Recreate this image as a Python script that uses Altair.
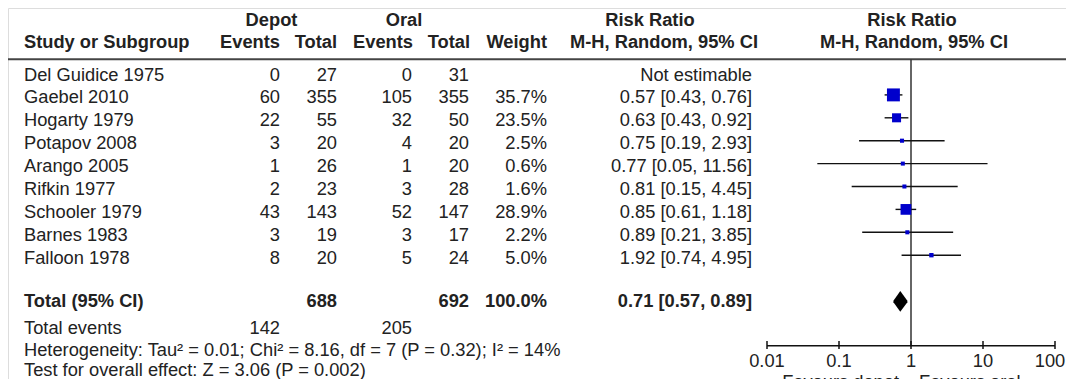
import altair as alt
import pandas as pd

# ---------------- data ----------------
studies = ["Del Guidice 1975", "Gaebel 2010", "Hogarty 1979", "Potapov 2008", "Arango 2005",
           "Rifkin 1977", "Schooler 1979", "Barnes 1983", "Falloon 1978"]
depot_events = [0, 60, 22, 3, 1, 2, 43, 3, 8]
depot_total = [27, 355, 55, 20, 26, 23, 143, 19, 20]
oral_events = [0, 105, 32, 4, 1, 3, 52, 3, 5]
oral_total = [31, 355, 50, 20, 20, 28, 147, 17, 24]
weights = [None, 35.7, 23.5, 2.5, 0.6, 1.6, 28.9, 2.2, 5.0]
rr = [None, 0.57, 0.63, 0.75, 0.77, 0.81, 0.85, 0.89, 1.92]
rr_lo = [None, 0.43, 0.43, 0.19, 0.05, 0.15, 0.61, 0.21, 0.74]
rr_hi = [None, 0.76, 0.92, 2.93, 11.56, 4.45, 1.18, 3.85, 4.95]

total_depot, total_oral, total_weight = 688, 692, 100.0
total_rr, total_lo, total_hi = 0.71, 0.57, 0.89
events_depot, events_oral = 142, 205
heterogeneity = "Heterogeneity: Tau² = 0.01; Chi² = 8.16, df = 7 (P = 0.32); I² = 14%"
overall = "Test for overall effect: Z = 3.06 (P = 0.002)"

tick_values = [0.01, 0.1, 1, 10, 100]
tick_labels = ["0.01", "0.1", "1", "10", "100"]
favours_left, favours_right = "Favours depot", "Favours oral"

# ---------------- layout ----------------
W, H = 1058, 371
FONT = "Liberation Sans"
FS = 18.3
INK = "#222222"
BLUE = "#0000CC"

ROW_H1, ROW_H2, ROW_LINE = -2.38, -1.42, -0.707
ROW_TOTAL, ROW_EVENTS, ROW_HET, ROW_TEST = 9.9, 11.07, 12.03, 12.9
ROW_AXIS, ROW_TICK_TOP, ROW_TICK_BOT, ROW_TICKLAB, ROW_FAV = 11.80, 11.59, 11.94, 12.51, 13.42

X_STUDY, X_DE, X_DT, X_OE, X_OT, X_W, X_RR = 16, 272, 329, 404, 461, 539, 744

yscale = alt.Scale(domain=[0, 10], range=[67.5, 296.5], nice=False, zero=False)
xscale = alt.Scale(type="log", domain=[0.01, 100], range=[759, 1047], nice=False)


def fmt_rr(e, l, h):
    if e is None:
        return "Not estimable"
    return f"{e:.2f} [{l:.2f}, {h:.2f}]"


table = pd.DataFrame({
    "row": list(range(len(studies))),
    "study": studies,
    "de": [str(v) for v in depot_events],
    "dt": [str(v) for v in depot_total],
    "oe": [str(v) for v in oral_events],
    "ot": [str(v) for v in oral_total],
    "w": ["" if v is None else f"{v:.1f}%" for v in weights],
    "rrt": [fmt_rr(e, l, h) for e, l, h in zip(rr, rr_lo, rr_hi)],
})

forest = pd.DataFrame({
    "row": list(range(len(studies))), "rr": rr, "lo": rr_lo, "hi": rr_hi, "weight": weights,
}).dropna()


def Yrow(field="row"):
    return alt.Y(f"{field}:Q", scale=yscale, axis=None)


def txt(df, field, x, align="left", bold=False, dx=0):
    return alt.Chart(df).mark_text(
        align=align, baseline="middle", font=FONT, fontSize=FS,
        fontWeight="bold" if bold else "normal", color=INK, dx=dx
    ).encode(x=alt.value(x), y=Yrow(), text=f"{field}:N")


def one(row, text):
    return pd.DataFrame({"row": [row], "t": [text]})


layers = []

# header rule
layers.append(alt.Chart(one(ROW_LINE, "")).mark_rule(color="#444444", strokeWidth=2).encode(
    x=alt.value(-1), x2=alt.value(W), y=Yrow()))

# line of no effect
layers.append(alt.Chart(pd.DataFrame({"x": [1], "a": [ROW_LINE], "b": [ROW_AXIS]})).mark_rule(
    color="#333333", strokeWidth=1.5).encode(
    x=alt.X("x:Q", scale=xscale, axis=None), y=Yrow("a"), y2="b:Q"))

# confidence intervals
layers.append(alt.Chart(forest).mark_rule(color="#111111", strokeWidth=1.4, yOffset=-3.5).encode(
    x=alt.X("lo:Q", scale=xscale, axis=None), x2="hi:Q", y=Yrow()))

# squares
layers.append(alt.Chart(forest).mark_square(color=BLUE, opacity=1, filled=True, yOffset=-3.5).encode(
    x=alt.X("rr:Q", scale=xscale, axis=None), y=Yrow(),
    size=alt.Size("weight:Q", scale=alt.Scale(type="pow", exponent=2, domain=[0, 36], range=[16, 170]),
                  legend=None)))

# diamond
dia = pd.DataFrame({"x": [total_lo, total_rr, total_hi],
                    "a": [ROW_TOTAL, ROW_TOTAL - 0.42, ROW_TOTAL],
                    "b": [ROW_TOTAL, ROW_TOTAL + 0.42, ROW_TOTAL]})
layers.append(alt.Chart(dia).mark_area(color="black", orient="vertical", yOffset=-1.5).encode(
    x=alt.X("x:Q", scale=xscale, axis=None), y=Yrow("a"), y2="b:Q"))

# axis
ax = pd.DataFrame({"lo": [min(tick_values)], "hi": [max(tick_values)], "row": [ROW_AXIS]})
layers.append(alt.Chart(ax).mark_rule(color="#111111", strokeWidth=1.5).encode(
    x=alt.X("lo:Q", scale=xscale, axis=None), x2="hi:Q", y=Yrow()))
ticks = pd.DataFrame({"v": tick_values, "lab": tick_labels,
                      "a": [ROW_TICK_TOP] * len(tick_values), "b": [ROW_TICK_BOT] * len(tick_values),
                      "row": [ROW_TICKLAB] * len(tick_values)})
layers.append(alt.Chart(ticks).mark_rule(color="#111111", strokeWidth=1.5).encode(
    x=alt.X("v:Q", scale=xscale, axis=None), y=Yrow("a"), y2="b:Q"))
layers.append(alt.Chart(ticks[ticks.v < max(tick_values)]).mark_text(
    font=FONT, fontSize=FS, color=INK, baseline="middle").encode(
    x=alt.X("v:Q", scale=xscale, axis=None), y=Yrow(), text="lab:N"))
layers.append(alt.Chart(ticks[ticks.v == max(tick_values)]).mark_text(
    font=FONT, fontSize=FS, color=INK, baseline="middle", dx=-5).encode(
    x=alt.X("v:Q", scale=xscale, axis=None), y=Yrow(), text="lab:N"))
fav = pd.DataFrame({"v": [1], "row": [ROW_FAV], "l": [favours_left], "r": [favours_right]})
layers.append(alt.Chart(fav).mark_text(font=FONT, fontSize=FS, color=INK, baseline="middle",
                                       align="right", dx=-12).encode(
    x=alt.X("v:Q", scale=xscale, axis=None), y=Yrow(), text="l:N"))
layers.append(alt.Chart(fav).mark_text(font=FONT, fontSize=FS, color=INK, baseline="middle",
                                       align="left", dx=8).encode(
    x=alt.X("v:Q", scale=xscale, axis=None), y=Yrow(), text="r:N"))

# headers
layers += [
    txt(one(ROW_H1, "Depot"), "t", 263.5, "center", True),
    txt(one(ROW_H1, "Oral"), "t", 396, "center", True),
    txt(one(ROW_H1, "Risk Ratio"), "t", 642, "center", True),
    txt(one(ROW_H1, "Risk Ratio"), "t", 904, "center", True),
    txt(one(ROW_H2, "Study or Subgroup"), "t", X_STUDY, "left", True),
    txt(one(ROW_H2, "Events"), "t", X_DE, "right", True),
    txt(one(ROW_H2, "Total"), "t", X_DT, "right", True),
    txt(one(ROW_H2, "Events"), "t", X_OE + 1, "right", True),
    txt(one(ROW_H2, "Total"), "t", X_OT + 1, "right", True),
    txt(one(ROW_H2, "Weight"), "t", X_W, "right", True),
    txt(one(ROW_H2, "M-H, Random, 95% CI"), "t", 656, "center", True),
    txt(one(ROW_H2, "M-H, Random, 95% CI"), "t", 906, "center", True),
]

# study rows
layers += [
    txt(table, "study", X_STUDY, "left"),
    txt(table, "de", X_DE, "right"),
    txt(table, "dt", X_DT, "right"),
    txt(table, "oe", X_OE, "right"),
    txt(table, "ot", X_OT, "right"),
    txt(table, "w", X_W, "right"),
    txt(table, "rrt", X_RR, "right"),
]

# totals and footer
layers += [
    txt(one(ROW_TOTAL, "Total (95% CI)"), "t", X_STUDY, "left", True),
    txt(one(ROW_TOTAL, str(total_depot)), "t", X_DT, "right", True),
    txt(one(ROW_TOTAL, str(total_oral)), "t", X_OT, "right", True),
    txt(one(ROW_TOTAL, f"{total_weight:.1f}%"), "t", X_W, "right", True),
    txt(one(ROW_TOTAL, fmt_rr(total_rr, total_lo, total_hi)), "t", X_RR, "right", True),
    txt(one(ROW_EVENTS, "Total events"), "t", X_STUDY, "left"),
    txt(one(ROW_EVENTS, str(events_depot)), "t", X_DE, "right"),
    txt(one(ROW_EVENTS, str(events_oral)), "t", X_OE, "right"),
    txt(one(ROW_HET, heterogeneity), "t", X_STUDY, "left"),
    txt(one(ROW_TEST, overall), "t", X_STUDY, "left"),
]

chart = alt.layer(*layers).properties(
    width=W, height=H, padding=0, autosize=alt.AutoSizeParams(type="none")
).configure_view(strokeWidth=0).configure(background="white")

chart.save("out.html", embed_options={"renderer": "svg", "actions": False})
